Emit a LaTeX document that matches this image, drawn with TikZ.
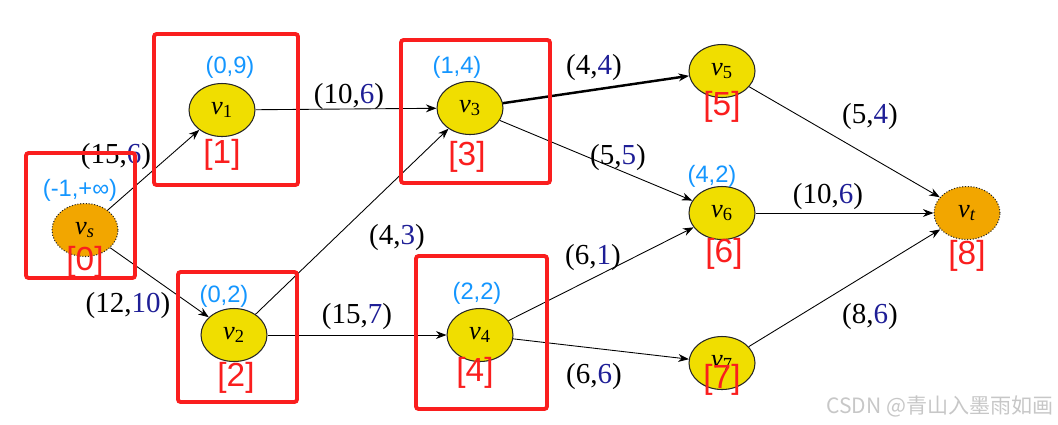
\documentclass[tikz,border=0pt]{standalone}
\usepackage{fontspec}
\setmainfont{Liberation Serif}
\newfontfamily\labelfont{Liberation Sans}
\newfontfamily\cjkfont{Noto Sans CJK SC}
\usetikzlibrary{shapes.geometric, arrows.meta}

\definecolor{nodeyellow}{RGB}{240,222,0}
\definecolor{nodeorange}{RGB}{242,166,0}
\definecolor{boxred}{RGB}{250,30,30}
\definecolor{levelblue}{RGB}{20,150,255}
\definecolor{flowblue}{RGB}{30,30,150}

\tikzset{
    vert/.style={ellipse, draw=black!85, line width=0.6pt, fill=nodeyellow,
        minimum width=1.32cm, minimum height=1.06cm, inner sep=0pt,
        font=\fontsize{15}{18}\selectfont\itshape},
    term/.style={vert, fill=nodeorange, densely dotted},
    cutbox/.style={draw=boxred, line width=2.2pt, rounded corners=1.5pt},
    idx/.style={text=boxred, inner sep=0pt, font=\labelfont\fontsize{19}{22}\selectfont},
    lvl/.style={text=levelblue, inner sep=0pt, font=\labelfont\fontsize{13.5}{16}\selectfont},
    flow/.style={inner sep=0pt, font=\fontsize{16.5}{19}\selectfont},
}

\begin{document}
\begin{tikzpicture}[x=0.02cm, y=-0.02cm]
        \useasboundingbox (0,0) rectangle (1058,424);

        \node[term] (vs) at (85,230) {v\textsubscript{s}};
        \node[vert] (v1) at (222,110) {v\textsubscript{\upshape 1}};
        \node[vert] (v2) at (234,335) {v\textsubscript{\upshape 2}};
        \node[vert] (v3) at (470,108) {v\textsubscript{\upshape 3}};
        \node[vert] (v4) at (480,335) {v\textsubscript{\upshape 4}};
        \node[vert] (v5) at (722,71) {v\textsubscript{\upshape 5}};
        \node[vert] (v6) at (722,213) {v\textsubscript{\upshape 6}};
        \node[vert] (v7) at (722,363) {v\textsubscript{\upshape 7}};
        \node[term] (vt) at (967,213) {v\textsubscript{t}};

        \draw[-{Stealth[length=6pt, width=4.5pt]}, line width=0.5pt]
            (vs) edge (v1)
            (vs) edge (v2)
            (v1) edge (v3)
            (v2) edge (v3)
            (v2) edge (v4)
            (v3) edge[line width=1.4pt] (v5)
            (v3) edge (v6)
            (v4) edge (v6)
            (v4) edge (v7)
            (v5) edge (vt)
            (v6) edge (vt)
            (v7) edge (vt);

        % capacity, flow
        \node[flow] (f01) at (116,157) {(15,\textcolor{flowblue}{6})};
        \node[flow] (f02) at (128,306) {(12,\textcolor{flowblue}{10})};
        \node[flow] (f13) at (349,97) {(10,\textcolor{flowblue}{6})};
        \node[flow] (f23) at (397,238) {(4,\textcolor{flowblue}{3})};
        \node[flow] (f24) at (357,317) {(15,\textcolor{flowblue}{7})};
        \node[flow] (f35) at (594,68) {(4,\textcolor{flowblue}{4})};
        \node[flow] (f36) at (618,158) {(5,\textcolor{flowblue}{5})};
        \node[flow] (f46) at (593,258) {(6,\textcolor{flowblue}{1})};
        \node[flow] (f47) at (594,377) {(6,\textcolor{flowblue}{6})};
        \node[flow] (f5t) at (870,117) {(5,\textcolor{flowblue}{4})};
        \node[flow] (f6t) at (828,197) {(10,\textcolor{flowblue}{6})};
        \node[flow] (f7t) at (870,317) {(8,\textcolor{flowblue}{6})};

        % labels
        \node[lvl] (l0) at (80,190) {(-1,+∞)};
        \node[lvl] (l1) at (230,67) {(0,9)};
        \node[lvl] (l2) at (224,296) {(0,2)};
        \node[lvl] (l3) at (457,67) {(1,4)};
        \node[lvl] (l4) at (477,293) {(2,2)};
        \node[lvl] (l6) at (712,176) {(4,2)};

        \node[idx] (i0) at (85,262) {[0]};
        \node[idx] (i1) at (222,155) {[1]};
        \node[idx] (i2) at (236,378) {[2]};
        \node[idx] (i3) at (467,157) {[3]};
        \node[idx] (i4) at (475,373) {[4]};
        \node[idx] (i5) at (722,107) {[5]};
        \node[idx] (i6) at (724,254) {[6]};
        \node[idx] (i7) at (722,380) {[7]};
        \node[idx] (i8) at (967,256) {[8]};

        \draw[cutbox] (26,153) rectangle (135,278);
        \draw[cutbox] (154,34) rectangle (298,185);
        \draw[cutbox] (178,272) rectangle (297,402);
        \draw[cutbox] (401,40) rectangle (550,183);
        \draw[cutbox] (416,256) rectangle (547,409);

        \node[text=black!22, inner sep=0pt, font=\cjkfont\fontsize{12}{14}\selectfont]
            (mark) at (940,406) {CSDN @青山入墨雨如画};
    \end{tikzpicture}
\end{document}
